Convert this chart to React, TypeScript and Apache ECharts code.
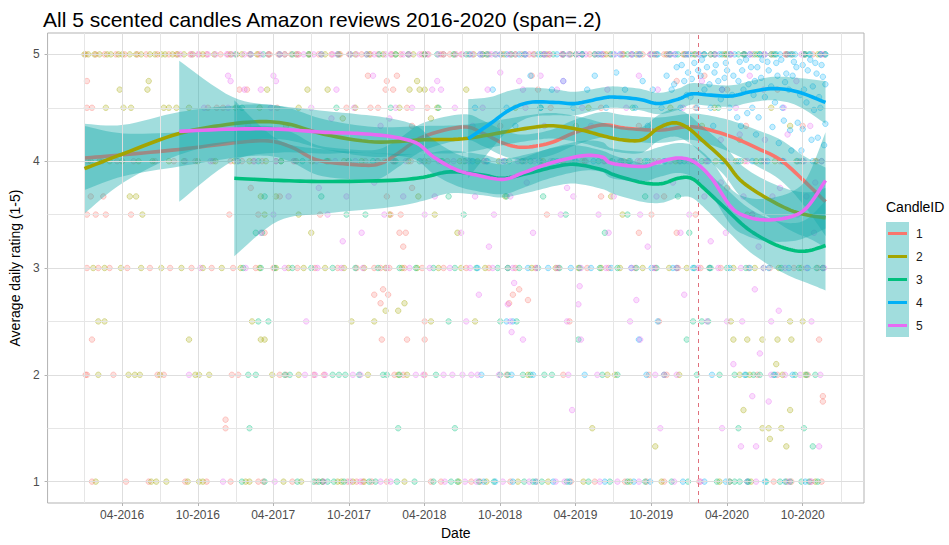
import React, { useEffect, useRef } from "react";
import * as echarts from "echarts";

// ---------- categories / styling keys ----------
const candleIds = ["1", "2", "3", "4", "5"];
const candleColors = ["#F8766D", "#A3A500", "#00BF7D", "#00B0F6", "#E76BF3"];
const titleText = "All 5 scented candles Amazon reviews 2016-2020 (span=.2)";
const xName = "Date";
const yName = "Average daily rating (1-5)";
const legendTitle = "CandleID";

// ---------- axes ----------
const xMinDate = "2015-10-04";
const xMaxDate = "2021-02-26";
const xTickDates = ["2016-04-01", "2016-10-01", "2017-04-01", "2017-10-01", "2018-04-01", "2018-10-01", "2019-04-01", "2019-10-01", "2020-04-01", "2020-10-01"];
const xMinorDates = ["2016-01-01", "2016-07-01", "2017-01-01", "2017-07-01", "2018-01-01", "2018-07-01", "2019-01-01", "2019-07-01", "2020-01-01", "2020-07-01", "2021-01-01"];
const yTicks = [1, 2, 3, 4, 5];
const yMinor = [1.5, 2.5, 3.5, 4.5];
const eventDate = "2020-01-22";

// ---------- loess fits (date, fitted value, half-width of the confidence band) ----------
const fit1Dates = ["2016-01-01", "2016-04-04", "2016-08-17", "2016-12-24", "2017-03-19", "2017-05-16", "2017-07-17", "2017-10-07", "2017-12-09", "2018-01-26", "2018-03-30", "2018-07-04", "2018-08-21", "2018-10-08", "2018-11-25", "2019-01-29", "2019-04-01", "2019-06-04", "2019-07-29", "2019-10-18", "2019-12-20", "2020-01-31", "2020-04-11", "2020-06-14", "2020-08-09", "2020-10-03", "2020-11-25"];
const fit1Values = [4.03, 4.06, 4.11, 4.17, 4.19, 4.13, 4.01, 3.97, 3.97, 4.07, 4.23, 4.32, 4.26, 4.17, 4.13, 4.17, 4.27, 4.34, 4.31, 4.29, 4.32, 4.31, 4.23, 4.12, 4.01, 3.82, 3.62];
const fit1Half = [0.3, 0.2, 0.16, 0.14, 0.14, 0.14, 0.14, 0.14, 0.14, 0.13, 0.13, 0.12, 0.12, 0.12, 0.12, 0.12, 0.12, 0.12, 0.12, 0.12, 0.12, 0.13, 0.15, 0.17, 0.19, 0.23, 0.32];

const fit2Dates = ["2016-01-01", "2016-04-04", "2016-08-17", "2016-12-24", "2017-03-16", "2017-05-16", "2017-08-04", "2017-12-02", "2018-03-30", "2018-07-04", "2018-10-08", "2018-12-26", "2019-02-13", "2019-04-17", "2019-06-04", "2019-07-22", "2019-09-09", "2019-10-18", "2019-11-26", "2019-12-29", "2020-01-31", "2020-03-25", "2020-05-04", "2020-06-29", "2020-09-02", "2020-10-20", "2020-11-25"];
const fit2Values = [3.93, 4.07, 4.26, 4.35, 4.37, 4.34, 4.25, 4.18, 4.2, 4.21, 4.27, 4.32, 4.33, 4.29, 4.24, 4.2, 4.2, 4.31, 4.36, 4.31, 4.2, 4.01, 3.82, 3.67, 3.54, 3.49, 3.47];
const fit2Half = [0.42, 0.27, 0.2, 0.17, 0.16, 0.15, 0.14, 0.14, 0.13, 0.13, 0.12, 0.12, 0.12, 0.12, 0.12, 0.12, 0.12, 0.12, 0.13, 0.13, 0.13, 0.14, 0.15, 0.16, 0.19, 0.22, 0.28];

const fit3Dates = ["2016-12-28", "2017-04-13", "2017-08-04", "2018-01-11", "2018-03-30", "2018-06-02", "2018-08-21", "2018-10-08", "2018-12-11", "2019-02-13", "2019-04-01", "2019-06-04", "2019-07-05", "2019-09-09", "2019-10-26", "2019-12-05", "2020-01-06", "2020-02-07", "2020-03-25", "2020-05-20", "2020-07-15", "2020-09-02", "2020-10-12", "2020-11-25"];
const fit3Values = [3.84, 3.82, 3.81, 3.82, 3.85, 3.9, 3.87, 3.84, 3.89, 3.95, 3.97, 3.92, 3.87, 3.8, 3.79, 3.84, 3.84, 3.74, 3.57, 3.37, 3.24, 3.17, 3.16, 3.21];
const fit3Half = [0.73, 0.38, 0.3, 0.25, 0.22, 0.2, 0.19, 0.18, 0.18, 0.18, 0.18, 0.18, 0.18, 0.18, 0.18, 0.18, 0.18, 0.18, 0.19, 0.2, 0.22, 0.25, 0.3, 0.42];

const fit4Dates = ["2018-07-16", "2018-09-07", "2018-10-24", "2018-12-11", "2019-02-13", "2019-04-01", "2019-06-04", "2019-07-05", "2019-09-01", "2019-10-18", "2019-12-05", "2020-01-06", "2020-02-16", "2020-04-11", "2020-05-28", "2020-07-22", "2020-09-18", "2020-11-25"];
const fit4Values = [4.21, 4.35, 4.48, 4.55, 4.55, 4.54, 4.59, 4.6, 4.58, 4.54, 4.58, 4.63, 4.62, 4.61, 4.65, 4.68, 4.65, 4.55];
const fit4Half = [0.37, 0.25, 0.18, 0.14, 0.12, 0.11, 0.1, 0.1, 0.1, 0.1, 0.1, 0.1, 0.1, 0.1, 0.1, 0.11, 0.13, 0.2];

const fit5Dates = ["2016-08-17", "2016-12-24", "2017-04-13", "2017-08-04", "2017-10-22", "2018-01-11", "2018-03-13", "2018-04-23", "2018-06-17", "2018-08-05", "2018-10-08", "2018-11-25", "2019-01-29", "2019-04-17", "2019-06-04", "2019-06-28", "2019-09-09", "2019-10-18", "2019-12-05", "2020-01-14", "2020-02-24", "2020-04-11", "2020-05-20", "2020-07-07", "2020-09-02", "2020-10-12", "2020-11-25"];
const fit5Values = [4.28, 4.3, 4.3, 4.27, 4.26, 4.23, 4.17, 4.04, 3.92, 3.87, 3.83, 3.89, 3.98, 4.05, 4.04, 3.98, 3.95, 3.99, 4.03, 3.99, 3.84, 3.57, 3.48, 3.45, 3.48, 3.57, 3.82];
const fit5Half = [0.66, 0.3, 0.22, 0.2, 0.18, 0.17, 0.16, 0.16, 0.15, 0.15, 0.14, 0.14, 0.14, 0.14, 0.14, 0.14, 0.14, 0.14, 0.14, 0.15, 0.16, 0.17, 0.18, 0.2, 0.23, 0.28, 0.45];

// ---------- daily average ratings (x = months since 2016-01-01) ----------
const c1Five = [0.1, 0.9, 1.6, 2.5, 3.2, 4.2, 4.9, 5.8, 6.7, 7.3, 8.4, 9.1, 9.7, 10.8, 11.4, 12.1, 13.1, 13.8, 14.7, 15.4, 16.4, 17.0, 17.9, 18.6, 19.6, 20.3, 21.0, 22.0, 22.7, 23.3, 24.4, 25.1, 25.7, 26.8, 27.3, 28.3, 29.0, 29.9, 30.5, 31.6, 32.1, 33.1, 33.8, 34.7, 35.3, 36.4, 36.9, 37.9, 38.6, 39.5, 40.1, 41.2, 41.7, 42.7, 43.4, 44.3, 44.9, 46.0, 46.5, 47.5, 48.2, 49.1, 49.7, 50.8, 51.3, 52.3, 53.0, 53.9, 54.5, 55.6, 56.1, 57.1, 57.8, 58.7];
const c1Four = [0.3, 1.4, 2.6, 3.9, 5.6, 7.1, 8.8, 10.2, 11.6, 12.5, 13.4, 14.1, 15.2, 16.6, 18.0, 19.4, 20.9, 22.3, 23.8, 24.6, 25.9, 27.3, 28.8, 30.1, 31.7, 33.4, 35.0, 36.2, 37.9, 39.5, 41.3, 42.8, 44.1, 45.6, 47.2, 48.4, 49.3, 50.8, 52.4, 53.9, 55.2, 56.8, 58.1];
const c1Three = [0.2, 1.1, 2.0, 3.4, 5.2, 6.8, 8.5, 10.1, 11.8, 13.6, 15.0, 16.9, 18.3, 20.1, 21.6, 23.0, 23.5, 24.2, 25.4, 26.8, 28.5, 30.3, 32.1, 34.2, 35.8, 37.6, 39.9, 41.6, 43.7, 45.3, 47.1, 48.9, 50.5, 52.7, 54.4, 56.3, 58.2];
const c1Two = [0.1, 0.2, 2.3, 5.8, 6.3, 11.7, 12.2, 15.5, 16.0, 18.2, 19.0, 24.6, 25.3, 27.0, 33.5, 38.0, 44.8, 46.2, 53.4, 55.0, 57.4];
const c1One = [0.6, 3.3, 5.1, 8.0, 9.7, 11.6, 13.8, 14.2, 16.5, 18.4, 20.9, 21.6, 22.1, 22.8, 24.0, 27.5, 28.3, 30.7, 31.4, 33.8, 35.9, 38.6, 40.5, 42.9, 44.6, 46.0, 48.8, 51.2, 52.6, 54.7, 56.1, 57.6, 58.5];
const c1Other: [number, number][] = [[0.2, 4.75], [0.2, 4.5], [0.6, 4.5], [9.8, 4.5], [10.5, 4.5], [11.0, 4.5], [12.3, 4.67], [12.9, 4.67], [15.3, 4.5], [20.8, 4.5], [22.5, 4.8], [22.7, 4.5], [23.3, 4.5], [23.9, 4.67], [24.0, 4.75], [24.5, 4.67], [24.8, 4.8], [25.6, 4.5], [26.0, 4.33], [27.2, 4.5], [33.0, 4.33], [35.5, 4.8], [36.0, 4.67], [37.0, 4.5], [41.0, 4.5], [44.0, 4.33], [47.0, 4.75], [48.5, 4.5], [49.2, 4.8], [51.0, 4.67], [52.5, 4.33], [55.0, 4.67], [57.0, 4.33], [0.5, 3.67], [1.5, 3.67], [13.2, 3.75], [15.5, 3.67], [24.0, 3.67], [26.0, 3.75], [41.0, 3.67], [46.0, 3.67], [51.0, 3.75], [0.2, 3.5], [0.9, 3.5], [1.7, 3.5], [3.7, 3.5], [11.5, 3.5], [13.8, 3.5], [18.7, 3.5], [24.3, 3.5], [25.1, 3.5], [36.7, 3.5], [45.0, 3.5], [48.5, 3.5], [53.0, 3.5], [14.3, 3.33], [25.0, 3.33], [25.5, 3.33], [44.0, 3.33], [47.0, 3.33], [25.3, 3.2], [23.0, 2.75], [23.7, 2.8], [24.1, 2.75], [23.5, 2.67], [34.0, 2.75], [34.5, 2.8], [33.7, 2.67], [35.2, 2.7], [0.6, 2.33], [23.6, 2.33], [25.6, 2.33], [27.0, 2.33], [58.3, 2.33], [27.0, 2.5], [38.5, 2.5], [45.6, 2.5], [11.2, 1.5], [11.2, 1.58], [58.6, 1.8], [58.6, 1.75]];

const c2Five = [0.0, 0.3, 0.8, 1.2, 1.8, 2.1, 2.7, 3.0, 3.6, 4.1, 4.5, 5.2, 5.6, 6.1, 6.4, 7.0, 7.4, 7.9, 8.6, 9.4, 10.3, 11.6, 12.5, 13.7, 14.6, 15.9, 16.8, 17.8, 19.1, 20.2, 21.5, 22.6, 23.7, 24.7, 26.1, 27.0, 28.5, 29.4, 30.9, 31.9, 33.3, 34.2, 35.7, 36.7, 38.0, 39.0, 40.5, 41.4, 42.8, 43.8, 45.2, 46.2, 47.6, 48.5, 50.0, 50.9, 52.4, 53.4, 54.7, 55.7, 57.2, 58.2];
const c2Four = [0.5, 1.2, 2.0, 3.0, 4.3, 5.4, 6.7, 7.9, 9.0, 10.4, 11.9, 13.1, 14.4, 15.6, 16.8, 18.1, 19.3, 20.6, 22.0, 23.3, 24.5, 25.7, 27.0, 28.3, 29.8, 31.2, 32.9, 34.7, 36.4, 38.0, 39.7, 41.8, 43.2, 45.0, 46.9, 48.2, 50.1, 51.7, 53.3, 54.8, 56.5, 58.0];
const c2Three = [0.7, 1.6, 2.9, 4.5, 6.1, 7.7, 9.4, 10.9, 12.4, 13.9, 15.2, 16.2, 17.4, 19.1, 20.6, 22.2, 23.9, 25.2, 26.4, 28.1, 29.9, 31.8, 33.6, 35.5, 37.4, 39.2, 41.0, 42.5, 44.3, 46.4, 47.8, 49.6, 51.5, 53.2, 55.1, 56.9, 58.6];
const c2Two = [1.1, 3.5, 4.0, 4.4, 6.0, 8.8, 9.1, 9.9, 14.9, 17.0, 22.5, 24.9, 25.6, 35.2, 41.5, 42.1, 47.2, 52.0, 52.8, 55.4, 57.2];
const c2One = [0.9, 5.3, 5.7, 6.5, 8.2, 9.1, 9.4, 12.8, 13.1, 15.8, 17.2, 18.9, 20.1, 20.4, 21.3, 22.2, 25.4, 29.7, 31.9, 34.4, 36.8, 39.6, 43.3, 45.8, 50.4, 52.9, 55.7, 58.0];
const c2Other: [number, number][] = [[5.1, 4.75], [26.4, 4.75], [2.8, 4.67], [5.0, 4.67], [14.5, 4.67], [17.7, 4.67], [19.3, 4.67], [25.8, 4.67], [26.6, 4.67], [27.0, 4.67], [30.3, 4.67], [1.7, 4.5], [3.1, 4.5], [3.7, 4.5], [6.3, 4.5], [6.7, 4.5], [7.3, 4.5], [8.3, 4.5], [12.0, 4.5], [13.9, 4.5], [17.0, 4.5], [21.5, 4.5], [25.0, 4.5], [28.0, 4.5], [34.2, 4.5], [40.0, 4.5], [46.5, 4.5], [50.0, 4.5], [54.5, 4.5], [20.5, 4.4], [16.0, 4.33], [27.5, 4.4], [39.0, 4.33], [49.0, 4.33], [52.0, 4.2], [56.0, 4.33], [3.6, 3.67], [4.1, 3.67], [14.0, 3.67], [15.2, 3.67], [26.5, 3.67], [33.4, 3.67], [41.8, 3.67], [4.6, 3.5], [14.3, 3.5], [17.0, 3.5], [27.8, 3.5], [42.7, 3.5], [52.6, 3.5], [18.0, 3.33], [24.2, 3.5], [29.6, 3.33], [23.9, 2.6], [24.9, 2.6], [25.4, 2.67], [1.1, 2.5], [1.6, 2.5], [13.3, 2.5], [21.2, 2.5], [23.0, 2.5], [27.5, 2.5], [31.0, 2.5], [51.3, 2.5], [56.0, 2.5], [57.0, 2.5], [8.3, 2.33], [14.0, 2.33], [14.3, 2.33], [51.5, 2.33], [52.6, 2.33], [53.8, 2.33], [55.0, 2.33], [56.1, 2.33], [54.9, 2.1], [40.3, 1.5], [45.3, 1.33], [52.3, 1.67], [53.8, 1.5], [54.3, 1.5], [54.4, 1.4], [55.3, 1.5], [55.7, 1.33], [56.0, 1.67]];

const c3Five = [12.0, 13.2, 14.2, 15.5, 16.5, 17.8, 18.8, 20.1, 21.1, 22.4, 23.4, 24.7, 25.7, 27.0, 28.0, 29.3, 30.3, 31.6, 32.6, 33.9, 34.9, 36.2, 37.2, 38.5, 39.5, 40.8, 41.8, 43.1, 44.1, 45.4, 46.4, 47.1, 47.9, 48.4, 49.2, 49.7, 50.6, 51.0, 51.9, 52.3, 53.2, 53.6, 54.5, 54.9, 55.8, 56.2, 57.1, 57.5, 58.4, 58.8];
const c3Four = [12.2, 13.8, 15.6, 17.3, 19.2, 21.0, 22.9, 24.7, 26.6, 28.4, 30.2, 31.9, 33.7, 35.4, 37.2, 38.9, 40.8, 42.6, 44.5, 46.1, 47.6, 49.0, 50.6, 52.1, 53.7, 55.4, 57.0, 58.5];
const c3Three = [12.6, 14.0, 15.1, 16.5, 18.0, 19.7, 21.5, 23.3, 25.0, 26.3, 27.7, 29.4, 31.1, 32.8, 34.5, 36.0, 37.7, 39.3, 40.9, 42.3, 43.8, 45.4, 47.0, 48.4, 49.7, 51.0, 52.5, 53.9, 55.3, 56.7, 58.1];
const c3Two = [13.0, 13.6, 15.9, 16.3, 19.7, 20.2, 20.7, 21.8, 23.7, 24.0, 25.0, 27.9, 33.0, 33.6, 34.8, 35.4, 36.5, 37.1, 41.1, 42.3, 46.0, 48.6, 50.4, 51.6, 52.5, 53.1, 53.6, 54.7, 56.4, 57.3, 58.0];
const c3One = [12.5, 14.3, 16.9, 18.2, 18.6, 18.9, 19.3, 19.8, 20.6, 22.6, 23.1, 24.8, 26.2, 27.7, 29.1, 29.6, 31.3, 32.5, 34.9, 35.6, 36.3, 38.3, 40.0, 41.7, 43.1, 44.5, 46.6, 47.9, 50.2, 51.2, 51.6, 52.0, 52.7, 54.1, 55.2, 56.0, 56.9, 57.5, 58.2];
const c3Other: [number, number][] = [[12.5, 4.5], [20.0, 4.5], [24.3, 4.5], [28.1, 4.5], [36.2, 4.5], [43.5, 4.5], [50.3, 4.5], [14.3, 3.67], [18.8, 3.67], [28.9, 3.67], [33.5, 3.67], [36.4, 3.67], [44.5, 3.67], [47.1, 3.67], [20.8, 3.5], [22.3, 3.5], [30.1, 3.5], [38.2, 3.5], [43.1, 3.5], [13.6, 3.33], [14.1, 3.33], [41.3, 3.33], [48.0, 3.33], [13.8, 2.5], [14.6, 2.5], [28.9, 2.5], [33.0, 2.5], [34.3, 2.5], [48.3, 2.5], [49.0, 2.5], [49.5, 2.5], [39.2, 2.33], [47.8, 2.33], [13.1, 1.5], [24.9, 1.5], [29.4, 1.5], [51.9, 1.5], [57.1, 1.5], [57.8, 1.33]];

const c4Five = [30.6, 31.4, 32.0, 33.0, 33.5, 34.5, 35.0, 36.0, 36.5, 37.5, 38.0, 39.0, 39.5, 40.5, 41.0, 42.0, 42.5, 43.5, 44.0, 45.0, 45.5, 46.5, 46.9, 47.7, 48.0, 48.8, 49.2, 50.0, 50.4, 51.2, 51.6, 52.4, 52.8, 53.6, 54.0, 54.8, 55.2, 56.0, 56.4, 57.2, 57.6, 58.4, 58.8];
const c4Four = [30.8, 32.0, 33.3, 34.8, 36.1, 37.5, 39.0, 40.4, 41.9, 43.3, 44.7, 46.0, 47.3, 48.4, 49.5, 50.7, 51.9, 53.0, 54.2, 55.4, 56.6, 57.8];
const c4Three = [31.2, 33.6, 35.2, 36.8, 38.6, 40.2, 41.8, 43.4, 45.0, 46.7, 48.3, 49.6, 51.2, 52.8, 54.3, 55.9, 57.4, 58.6];
const c4Two = [31.5, 33.9, 35.6, 39.7, 44.6, 49.8, 52.4, 54.8, 56.2];
const c4One = [31.7, 32.6, 34.0, 35.8, 37.2, 38.5, 41.3, 43.6, 44.9, 47.5, 49.2, 50.9, 52.6, 54.0, 55.6, 57.2];
const c4Other: [number, number][] = [[31.0, 4.5], [32.4, 4.67], [33.5, 4.5], [34.2, 4.33], [35.4, 4.8], [36.2, 4.5], [37.1, 4.67], [38.0, 4.75], [38.8, 4.5], [39.9, 4.67], [40.5, 4.8], [41.4, 4.5], [42.2, 4.83], [42.9, 4.67], [43.7, 4.5], [44.3, 4.75], [44.7, 4.33], [45.1, 4.67], [45.8, 4.5], [46.2, 4.8], [46.6, 4.67], [47.0, 4.88], [47.3, 4.5], [47.6, 4.75], [47.9, 4.83], [48.1, 4.6], [48.4, 4.92], [48.6, 4.5], [48.9, 4.8], [49.2, 4.67], [49.4, 4.88], [49.7, 4.5], [50.0, 4.83], [50.3, 4.75], [50.6, 4.67], [50.9, 4.92], [51.2, 4.5], [51.5, 4.8], [51.8, 4.41], [52.0, 4.93], [52.3, 4.67], [52.6, 4.45], [52.9, 4.88], [53.2, 4.75], [53.5, 4.41], [53.8, 4.95], [54.0, 4.6], [54.3, 4.85], [54.6, 4.32], [54.9, 4.92], [55.1, 4.17], [55.4, 4.5], [55.7, 4.82], [56.0, 4.29], [56.3, 4.93], [56.6, 4.36], [56.9, 4.1], [57.1, 4.67], [57.4, 4.85], [57.7, 4.2], [58.0, 4.92], [58.2, 4.22], [58.4, 4.5], [58.6, 4.79], [58.8, 4.35], [58.7, 4.15], [55.9, 4.67], [53.0, 4.5], [49.9, 4.33], [57.9, 4.48], [56.1, 4.1], [33.5, 2.5], [34.0, 2.5], [44.0, 2.33], [45.5, 2.5],
  [46.8, 4.72], [47.4, 4.9], [47.8, 4.62], [48.2, 4.77], [48.7, 4.85], [49.0, 4.95], [49.6, 4.72], [50.1, 4.9], [50.5, 4.58], [50.8, 4.78], [51.0, 4.85], [51.4, 4.62], [51.9, 4.75], [52.2, 4.85], [52.5, 4.95], [52.7, 4.72], [53.1, 4.62], [53.4, 4.88], [53.7, 4.78], [54.2, 4.93], [54.5, 4.7], [54.8, 4.55], [55.0, 4.8], [55.3, 4.95], [55.6, 4.74], [56.2, 4.8], [56.5, 4.88], [56.8, 4.62], [57.0, 4.9], [57.3, 4.55], [57.6, 4.95], [57.8, 4.7], [58.1, 4.82], [58.3, 4.6], [58.5, 4.9], [58.8, 4.72], [53.3, 4.25], [55.5, 4.38], [57.0, 4.3], [52.1, 4.33]];

const c5Five = [7.6, 8.5, 9.0, 9.8, 10.4, 11.3, 11.7, 12.7, 13.2, 14.0, 14.6, 15.5, 15.9, 16.9, 17.4, 18.2, 18.8, 19.7, 20.1, 21.1, 21.6, 22.4, 23.0, 23.9, 24.3, 25.3, 25.8, 26.6, 27.2, 28.1, 28.5, 29.5, 30.0, 30.8, 31.4, 32.3, 32.7, 33.7, 34.2, 35.0, 35.6, 36.5, 36.9, 37.9, 38.4, 39.2, 39.8, 40.7, 41.1, 42.1, 42.6, 43.4, 44.0, 44.9, 45.3, 46.3, 46.8, 47.8, 48.7, 50.1, 51.3, 52.8, 54.0, 55.7, 56.9, 58.5];
const c5Four = [8.0, 10.0, 12.1, 13.5, 15.2, 16.7, 18.4, 19.9, 21.5, 23.2, 24.5, 25.5, 26.8, 28.1, 29.3, 30.5, 31.8, 33.1, 34.4, 35.7, 37.0, 38.4, 39.8, 41.2, 42.5, 43.9, 45.2, 46.5, 47.9, 49.4, 51.0, 52.6, 54.0, 55.5, 57.1, 58.5];
const c5Three = [9.2, 12.8, 15.9, 18.5, 20.4, 22.1, 24.0, 25.8, 27.4, 29.0, 30.6, 32.4, 34.0, 35.9, 37.5, 39.4, 41.4, 43.4, 45.2, 47.0, 48.7, 50.3, 52.1, 53.9, 55.6, 57.3, 58.7];
const c5Two = [8.3, 17.5, 18.3, 19.1, 21.3, 21.9, 26.3, 26.9, 28.5, 29.2, 30.0, 30.7, 31.2, 32.9, 38.4, 40.7, 45.3, 46.0, 47.0, 54.5, 55.6, 56.8, 58.4];
const c5One = [11.0, 15.1, 19.0, 21.1, 21.9, 23.5, 24.3, 28.6, 30.2, 31.1, 33.2, 35.3, 37.4, 38.1, 40.9, 42.3, 44.0, 46.8, 48.9, 53.3, 55.9, 57.7];
const c5Other: [number, number][] = [[11.6, 4.75], [11.4, 4.8], [15.0, 4.8], [15.2, 4.75], [22.9, 4.8], [28.0, 4.75], [33.0, 4.83], [34.5, 4.75], [36.2, 4.8], [38.0, 4.75], [44.0, 4.8], [49.0, 4.75], [52.8, 4.8], [56.5, 4.75], [12.7, 4.67], [14.0, 4.67], [20.0, 4.67], [27.6, 4.67], [28.3, 4.67], [32.0, 4.67], [34.8, 4.67], [37.5, 4.67], [41.5, 4.67], [45.5, 4.67], [50.6, 4.67], [53.9, 4.67], [9.5, 4.5], [11.4, 4.5], [14.8, 4.5], [18.0, 4.5], [21.4, 4.5], [24.7, 4.5], [26.0, 4.5], [29.4, 4.5], [31.6, 4.5], [35.0, 4.5], [39.5, 4.5], [43.0, 4.5], [47.5, 4.5], [51.7, 4.5], [55.5, 4.5], [13.0, 4.33], [19.6, 4.4], [23.5, 4.33], [24.2, 4.4], [30.8, 4.33], [36.5, 4.33], [40.2, 4.33], [46.0, 4.33], [50.5, 4.2], [52.0, 4.25], [54.0, 4.2], [55.8, 4.25], [57.6, 4.33], [18.6, 3.75], [23.0, 3.8], [35.1, 3.8], [38.3, 3.75], [46.7, 3.8], [50.5, 3.8], [55.2, 3.75], [58.0, 3.8], [16.2, 3.67], [20.8, 3.67], [25.3, 3.67], [27.8, 3.67], [31.0, 3.67], [33.8, 3.67], [38.8, 3.67], [42.0, 3.67], [45.4, 3.67], [49.2, 3.67], [52.3, 3.67], [54.6, 3.67], [57.3, 3.67], [15.0, 3.5], [19.3, 3.5], [23.8, 3.5], [27.0, 3.5], [32.5, 3.5], [37.8, 3.5], [40.8, 3.5], [44.1, 3.5], [48.0, 3.5], [53.0, 3.5], [56.6, 3.5], [14.0, 3.33], [22.0, 3.33], [29.9, 3.33], [35.6, 3.33], [41.6, 3.33], [47.3, 3.33], [50.9, 3.33], [57.9, 3.33], [20.5, 3.25], [32.1, 3.2], [44.7, 3.2], [49.7, 3.25], [53.5, 3.2], [31.3, 2.75], [34.1, 2.86], [33.6, 2.66], [33.9, 2.4], [39.3, 2.83], [39.2, 2.66], [43.8, 2.7], [47.6, 2.75], [53.2, 2.8], [55.1, 2.6], [17.6, 2.5], [30.3, 2.5], [33.8, 2.5], [38.3, 2.5], [43.3, 2.5], [49.4, 2.5], [51.0, 2.5], [52.2, 2.5], [54.5, 2.5], [57.7, 2.5], [34.8, 2.33], [39.4, 2.33], [44.1, 2.33], [51.5, 2.1], [53.6, 2.2], [38.7, 1.67], [45.7, 1.5], [50.6, 1.5], [52.1, 1.33], [53.3, 1.33], [53.0, 1.8], [54.3, 1.75], [58.3, 1.33]];

// ---------- helpers ----------
const FONT = '"Liberation Sans", Arial, Helvetica, sans-serif';
const BAND_FILL = "rgba(20,170,170,0.4)";
const ts = (d: string) => Date.parse(d + "T00:00:00Z");
const MONTH_MS = 30.4375 * 86400000;
const BASE_TS = Date.UTC(2016, 0, 1);
const mToTs = (m: number) => BASE_TS + m * MONTH_MS;

function rgba(hex: string, a: number) {
  const n = parseInt(hex.slice(1), 16);
  return `rgba(${(n >> 16) & 255},${(n >> 8) & 255},${n & 255},${a})`;
}

// Catmull-Rom smoothing of already-projected pixel points (rendering only)
function smoothPixels(p: number[][], segs = 8): number[][] {
  const out: number[][] = [];
  const n = p.length;
  for (let i = 0; i < n - 1; i++) {
    const p0 = p[Math.max(0, i - 1)];
    const p1 = p[i];
    const p2 = p[i + 1];
    const p3 = p[Math.min(n - 1, i + 2)];
    for (let s = 0; s < segs; s++) {
      const t = s / segs;
      const t2 = t * t;
      const t3 = t2 * t;
      const f = (a: number, b: number, c: number, d: number) =>
        0.5 * (2 * b + (-a + c) * t + (2 * a - 5 * b + 4 * c - d) * t2 + (-a + 3 * b - 3 * c + d) * t3);
      out.push([f(p0[0], p1[0], p2[0], p3[0]), f(p0[1], p1[1], p2[1], p3[1])]);
    }
  }
  out.push(p[n - 1]);
  return out;
}

const fits = [
  { dates: fit1Dates, values: fit1Values, half: fit1Half },
  { dates: fit2Dates, values: fit2Values, half: fit2Half },
  { dates: fit3Dates, values: fit3Values, half: fit3Half },
  { dates: fit4Dates, values: fit4Values, half: fit4Half },
  { dates: fit5Dates, values: fit5Values, half: fit5Half },
];

const pointSets = [
  { five: c1Five, four: c1Four, three: c1Three, two: c1Two, one: c1One, other: c1Other },
  { five: c2Five, four: c2Four, three: c2Three, two: c2Two, one: c2One, other: c2Other },
  { five: c3Five, four: c3Four, three: c3Three, two: c3Two, one: c3One, other: c3Other },
  { five: c4Five, four: c4Four, three: c4Three, two: c4Two, one: c4One, other: c4Other },
  { five: c5Five, four: c5Four, three: c5Three, two: c5Two, one: c5One, other: c5Other },
];

function buildPoints(p: (typeof pointSets)[number]) {
  const out: [number, number][] = [];
  p.five.forEach((m) => out.push([mToTs(m), 5]));
  p.four.forEach((m) => out.push([mToTs(m), 4]));
  p.three.forEach((m) => out.push([mToTs(m), 3]));
  p.two.forEach((m) => out.push([mToTs(m), 2]));
  p.one.forEach((m) => out.push([mToTs(m), 1]));
  p.other.forEach(([m, v]) => out.push([mToTs(m), v]));
  return out;
}

function fmtMonth(v: number) {
  const d = new Date(v);
  return String(d.getUTCMonth() + 1).padStart(2, "0") + "-" + d.getUTCFullYear();
}

export default function App() {
  const ref = useRef<HTMLDivElement>(null);

  useEffect(() => {
    document.body.style.margin = "0";
    if (!ref.current) return;
    const chart = echarts.init(ref.current, undefined, { renderer: "svg" });

    const gridLineStyle = { color: "#dedede", width: 1, type: "solid" as const };
    const gridData: any[] = [
      ...xMinorDates.map((d) => ({ xAxis: ts(d), lineStyle: { color: "#e6e6e6", width: 1, type: "solid" } })),
      ...xTickDates.map((d) => ({ xAxis: ts(d) })),
      ...yMinor.map((v) => ({ yAxis: v, lineStyle: { color: "#e6e6e6", width: 1, type: "solid" } })),
      ...yTicks.map((v) => ({ yAxis: v })),
    ];

    const series: any[] = [];
    series.push({
      type: "line",
      name: "grid",
      data: [[ts(xMinDate), 1]],
      showSymbol: false,
      symbol: "none",
      lineStyle: { width: 0 },
      silent: true,
      z: 0,
      markLine: {
        silent: true,
        symbol: ["none", "none"],
        label: { show: false },
        lineStyle: gridLineStyle,
        data: gridData,
      },
    });

    pointSets.forEach((p, i) => {
      series.push({
        type: "scatter",
        name: "pts" + candleIds[i],
        data: buildPoints(p),
        symbol: "circle",
        symbolSize: 5.5,
        silent: true,
        z: 1,
        itemStyle: {
          color: rgba(candleColors[i], 0.28),
          borderColor: rgba(candleColors[i], 0.55),
          borderWidth: 0.8,
        },
      });
    });

    fits.forEach((f, i) => {
      const upper = f.values.map((v, k) => v + f.half[k]);
      const lower = f.values.map((v, k) => v - f.half[k]);
      const xs = f.dates.map(ts);
      series.push({
        type: "custom",
        name: "band" + candleIds[i],
        silent: true,
        clip: true,
        z: 2 + i * 2,
        data: [[xs[0], f.values[0]]],
        renderItem: (_params: any, api: any) => {
          const up = smoothPixels(xs.map((x, k) => api.coord([x, upper[k]])));
          const lo = smoothPixels(xs.map((x, k) => api.coord([x, lower[k]])));
          const pts = up.concat(lo.reverse());
          return {
            type: "polygon",
            shape: { points: pts },
            style: { fill: BAND_FILL, stroke: "none" },
          };
        },
      });
      series.push({
        type: "custom",
        name: candleIds[i],
        silent: true,
        clip: true,
        z: 3 + i * 2,
        data: [[xs[0], f.values[0]]],
        renderItem: (_params: any, api: any) => {
          const pts = smoothPixels(xs.map((x, k) => api.coord([x, f.values[k]])));
          return {
            type: "polyline",
            shape: { points: pts },
            style: { stroke: candleColors[i], lineWidth: 3.6, fill: "none", lineJoin: "round", lineCap: "butt" },
          };
        },
      });
    });

    series.push({
      type: "line",
      name: "event",
      data: [[ts(xMinDate), 1]],
      symbol: "none",
      showSymbol: false,
      lineStyle: { width: 0 },
      silent: true,
      z: 30,
      markLine: {
        silent: true,
        symbol: ["none", "none"],
        label: { show: false },
        lineStyle: { color: "#e0707c", width: 1, type: [4, 4] },
        data: [{ xAxis: ts(eventDate) }],
      },
    });

    const legendX = 886;
    const keyTop = 222;
    const keyH = 23;
    const graphic: any[] = [
      {
        type: "text",
        left: legendX,
        top: 200,
        style: { text: legendTitle, fontSize: 14, fontFamily: FONT, fill: "#000" },
      },
      {
        type: "rect",
        shape: { x: legendX, y: keyTop, width: 23, height: keyH * candleIds.length },
        style: { fill: "#a1dddd" },
      },
    ];
    candleIds.forEach((id, i) => {
      const cy = keyTop + keyH * i + keyH / 2;
      graphic.push({
        type: "line",
        shape: { x1: legendX + 2, y1: cy, x2: legendX + 21, y2: cy },
        style: { stroke: candleColors[i], lineWidth: 3 },
      });
      graphic.push({
        type: "text",
        x: legendX + 30,
        y: cy,
        style: { text: id, fontSize: 12, fontFamily: FONT, fill: "#1a1a1a", verticalAlign: "middle" },
      });
    });

    const option: any = {
      animation: false,
      textStyle: { fontFamily: FONT },
      title: {
        text: titleText,
        left: 38,
        top: 4,
        textStyle: { fontSize: 21, fontWeight: "normal", color: "#000", fontFamily: FONT },
      },
      grid: {
        left: 40,
        right: 85,
        top: 33,
        bottom: 42,
        show: true,
        borderColor: "#b3b3b3",
        borderWidth: 1,
        backgroundColor: "transparent",
      },
      xAxis: {
        type: "value",
        min: ts(xMinDate),
        max: ts(xMaxDate),
        splitLine: { show: false },
        axisLine: { show: false },
        axisTick: {
          show: true,
          customValues: xTickDates.map(ts),
          length: 3,
          lineStyle: { color: "#b3b3b3" },
        },
        axisLabel: {
          customValues: xTickDates.map(ts),
          formatter: (v: number) => fmtMonth(v),
          color: "#4d4d4d",
          fontSize: 12,
          margin: 6,
          fontFamily: FONT,
        },
        name: xName,
        nameLocation: "middle",
        nameGap: 23,
        nameTextStyle: { fontSize: 14, color: "#000", fontFamily: FONT },
      },
      yAxis: {
        type: "value",
        min: 0.8,
        max: 5.2,
        splitLine: { show: false },
        axisLine: { show: false },
        axisTick: {
          show: true,
          customValues: yTicks,
          length: 3,
          lineStyle: { color: "#b3b3b3" },
        },
        axisLabel: {
          customValues: yTicks,
          color: "#4d4d4d",
          fontSize: 12,
          margin: 8,
          fontFamily: FONT,
        },
        name: yName,
        nameLocation: "middle",
        nameGap: 17,
        nameTextStyle: { fontSize: 14, color: "#000", fontFamily: FONT },
      },
      graphic,
      series,
    };

    chart.setOption(option);
    return () => chart.dispose();
  }, []);

  return <div ref={ref} style={{ width: 949, height: 545 }} />;
}
